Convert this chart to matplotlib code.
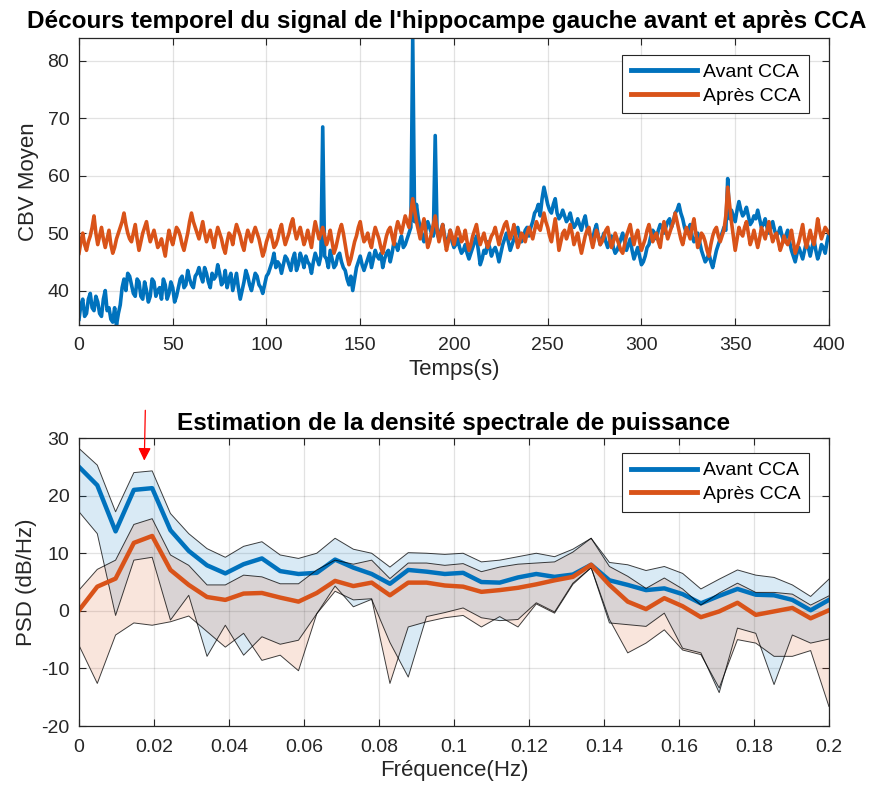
import numpy as np
import matplotlib.pyplot as plt

plt.rcParams['font.family'] = ['Liberation Sans', 'DejaVu Sans']
plt.rcParams['axes.unicode_minus'] = False

# CBV moyen, hippocampe gauche, un point par seconde
t = np.arange(0, 401)

avant_cca = [
    35.0, 37.5, 38.5, 35.5, 36.0, 38.5, 39.5, 37.0, 36.5, 39.0, 38.0,
    36.0, 35.5, 38.5, 40.0, 36.5, 37.0, 35.0, 34.5, 37.0, 34.0,
    36.0, 37.5, 40.5, 42.0, 40.0, 43.0, 42.5, 41.0, 39.5, 39.0,
    42.0, 41.5, 39.0, 38.5, 41.5, 40.0, 38.0, 39.0, 42.0, 41.5,
    39.0, 40.0, 40.5, 38.5, 42.0, 41.0, 38.5, 39.5, 41.5, 40.5,
    38.0, 39.0, 40.5, 42.0, 42.5, 40.5, 41.0, 43.5, 42.0, 41.0,
    40.5, 42.5, 43.0, 44.0, 42.5, 41.5, 44.0, 43.0, 41.5, 40.5,
    43.0, 42.0, 42.5, 44.5, 43.0, 41.0, 41.5, 43.5, 40.5, 42.0,
    43.0, 40.0, 41.5, 43.0, 40.5, 38.5, 40.0, 41.5, 43.5, 42.5,
    41.0, 40.0, 41.5, 43.0, 42.5, 41.0, 40.5, 39.5, 41.0, 42.5,
    43.0, 44.0, 45.0, 46.5, 44.0, 45.0, 44.5, 43.0, 44.5, 46.0,
    45.5, 44.5, 43.5, 45.5, 46.5, 43.5, 44.5, 46.5, 45.5, 44.0,
    46.0, 45.0, 44.5, 43.0, 45.0, 46.5, 45.5, 44.5, 46.0, 68.5,
    46.0, 45.5, 44.0, 47.0, 45.5, 44.0, 44.5, 46.0, 46.5, 45.0,
    44.0, 43.5, 42.0, 41.0, 42.5, 40.0, 42.0, 44.0, 45.0, 46.0,
    44.5, 43.5, 44.5, 45.5, 46.5, 44.0, 45.5, 47.0, 46.0, 45.5,
    46.5, 44.0, 45.5, 46.5, 47.0, 45.0, 46.5, 48.5, 48.0, 47.0,
    48.5, 49.5, 47.5, 48.0, 49.0, 50.0, 51.0, 84.0, 52.0, 55.0,
    52.5, 51.0, 49.5, 48.5, 50.5, 52.0, 51.0, 50.0, 49.5, 67.0,
    50.0, 49.0, 50.5, 51.5, 49.5, 48.0, 49.0, 50.5, 48.5, 47.5,
    48.0, 49.0, 47.5, 46.5, 47.0, 48.0, 46.5, 45.5, 46.5, 47.5,
    48.5, 49.5, 47.0, 44.5, 45.5, 47.0, 46.5, 48.5, 47.5, 46.0,
    47.0, 47.5, 46.5, 45.0, 46.5, 48.0, 49.0, 50.0, 48.5, 47.0,
    48.0, 49.0, 50.0, 51.0, 49.5, 48.5, 49.0, 50.5, 51.0, 49.5,
    51.0, 52.0, 53.5, 54.0, 55.0, 53.0, 56.0, 58.0, 56.5, 55.0,
    54.0, 53.5, 55.0, 56.0, 53.5, 52.5, 53.0, 54.0, 53.0, 52.0,
    52.5, 53.5, 52.0, 51.0, 51.5, 52.5, 51.5, 50.5, 52.0, 53.0,
    51.0, 50.0, 49.5, 49.0, 50.5, 51.5, 49.5, 48.0, 49.0, 50.0,
    48.5, 47.5, 48.5, 49.5, 47.5, 46.5, 47.0, 48.0, 49.0, 50.0,
    48.5, 47.0, 48.0, 49.0, 47.0, 45.5, 46.5, 47.5, 46.0, 44.5,
    45.0, 46.0, 47.5, 48.0, 49.5, 50.5, 50.0, 49.0, 50.5, 51.5,
    51.0, 50.0, 51.0, 52.0, 52.5, 51.0, 52.0, 53.5, 54.0, 55.0,
    53.5, 52.5, 51.0, 50.0, 50.5, 51.5, 49.5, 48.5, 49.0, 50.0,
    48.5, 47.0, 46.0, 45.0, 45.5, 46.5, 45.0, 44.0, 45.5, 47.0,
    48.0, 49.0, 50.0, 51.0, 50.5, 59.5, 52.5, 54.0, 53.0, 52.0,
    54.0, 55.5, 54.0, 53.0, 53.5, 54.5, 53.0, 51.5, 52.0, 53.0,
    52.5, 54.0, 52.5, 51.0, 51.5, 52.5, 51.0, 50.0, 51.0, 52.0,
    50.5, 49.5, 50.0, 51.0, 49.5, 48.5, 49.5, 50.5, 48.5, 47.0,
    46.0, 45.0, 46.5, 47.5, 46.5, 45.5, 47.0, 48.5, 47.5, 46.0,
    47.5, 49.0, 47.0, 45.5, 46.5, 48.0, 47.5, 46.5, 48.5, 50.0,
]

apres_cca = [
    46.5, 48.5, 50.0, 48.0, 47.0, 48.5, 49.5, 51.0, 53.0, 50.0, 48.0,
    49.5, 51.0, 49.0, 47.5, 49.0, 50.5, 48.0, 46.5, 47.5, 49.0,
    50.0, 51.0, 52.0, 53.5, 51.5, 50.0, 49.0, 48.5, 50.0, 51.5,
    49.0, 47.0, 48.5, 50.0, 51.0, 52.0, 50.0, 48.5, 49.5, 50.5,
    49.0, 47.5, 48.0, 49.0, 47.5, 46.0, 48.5, 50.5, 49.0, 48.0,
    49.5, 51.0, 50.5, 49.5, 48.0, 47.0, 48.5, 50.0, 52.0, 53.5,
    52.0, 51.0, 50.0, 49.0, 50.5, 52.0, 50.0, 48.5, 49.5, 50.5,
    49.0, 47.5, 49.5, 51.0, 50.0, 49.0, 47.5, 46.5, 48.5, 50.0,
    49.5, 48.0, 50.0, 51.5, 50.5, 49.5, 48.0, 47.0, 49.0, 50.5,
    49.5, 48.5, 50.0, 51.0, 50.0, 49.0, 47.5, 46.0, 47.0, 48.5,
    49.5, 50.5, 49.0, 47.5, 48.0, 49.0, 50.5, 51.5, 49.5, 48.0,
    49.0, 50.0, 51.5, 52.5, 50.5, 49.0, 50.0, 51.0, 49.5, 48.0,
    49.0, 50.5, 49.0, 47.5, 50.0, 52.0, 50.5, 49.0, 50.0, 51.0,
    49.5, 48.0, 49.0, 50.5, 48.5, 46.5, 47.5, 49.0, 50.5, 51.5,
    50.0, 48.0, 46.0, 44.5, 45.5, 47.0, 48.5, 49.5, 51.0, 52.0,
    50.0, 48.5, 49.0, 50.0, 48.5, 47.5, 49.5, 51.0, 50.0, 49.0,
    47.5, 46.5, 48.0, 49.5, 50.5, 51.0, 49.5, 48.0, 50.5, 52.0,
    51.0, 50.0, 51.5, 53.0, 52.0, 51.0, 53.5, 56.0, 54.0, 52.0,
    50.5, 49.0, 51.0, 52.5, 50.0, 47.5, 48.5, 50.0, 51.5, 53.0,
    50.5, 48.5, 50.0, 51.5, 49.0, 47.0, 48.5, 50.5, 49.5, 48.0,
    49.5, 51.0, 50.0, 48.5, 49.0, 50.5, 48.5, 47.0, 48.0, 49.5,
    50.5, 51.5, 49.5, 48.0, 49.0, 50.0, 48.5, 47.5, 48.5, 49.5,
    50.0, 51.0, 49.5, 48.0, 49.5, 50.5, 51.5, 52.0, 50.5, 49.0,
    50.0, 51.5, 49.5, 47.5, 48.5, 50.0, 49.5, 48.5, 50.0, 51.0,
    50.0, 49.0, 50.5, 52.0, 51.0, 50.5, 52.0, 53.5, 52.0, 51.0,
    49.5, 48.5, 50.5, 52.5, 50.0, 47.0, 48.5, 50.0, 50.5, 49.0,
    50.0, 51.5, 50.0, 48.0, 49.0, 50.0, 48.0, 46.5, 48.0, 49.5,
    50.5, 51.0, 49.0, 47.5, 49.0, 50.5, 49.5, 48.0, 48.5, 49.5,
    50.5, 51.0, 49.0, 47.5, 48.5, 50.0, 49.0, 48.0, 47.0, 46.5,
    48.0, 49.5, 50.5, 51.5, 49.5, 48.0, 49.5, 50.5, 48.5, 47.0,
    48.0, 49.0, 50.5, 51.5, 50.0, 48.5, 49.5, 50.0, 48.5, 47.5,
    50.0, 52.0, 50.5, 49.0, 50.0, 51.0, 52.0, 53.5, 52.0, 50.5,
    49.0, 48.0, 49.5, 51.0, 50.0, 49.0, 51.0, 52.5, 50.0, 47.5,
    48.5, 50.0, 49.5, 48.5, 47.0, 46.0, 48.0, 49.5, 50.5, 51.0,
    49.5, 48.5, 49.5, 50.5, 53.0, 58.0, 55.0, 52.0, 49.5, 47.0,
    49.0, 51.0, 50.0, 49.5, 51.0, 52.0, 50.0, 48.0, 49.0, 50.5,
    49.0, 47.5, 49.0, 51.0, 50.0, 49.0, 50.5, 52.0, 50.0, 48.5,
    49.5, 50.0, 48.5, 47.0, 48.0, 49.5, 48.5, 48.0, 49.0, 50.5,
    48.5, 46.5, 47.5, 48.5, 50.0, 51.5, 49.0, 47.5, 49.0, 50.5,
    49.0, 48.0, 50.0, 52.5, 50.5, 49.0, 50.0, 51.0, 50.5, 50.0,
]

# DSP (dB/Hz), moyenne et enveloppe, resolution 0.2/41 Hz
freq = np.arange(42) * 0.2 / 41

psd_avant = [25.0, 21.8, 13.8, 21.0, 21.3, 14.0, 10.4, 7.9, 6.5, 8.1,
             9.1, 6.9, 6.4, 6.6, 8.9, 7.5, 6.4, 4.7, 7.1, 6.8,
             6.4, 6.6, 5.0, 4.9, 5.8, 6.4, 5.9, 6.3, 8.0, 5.3,
             4.5, 3.6, 3.9, 2.9, 1.3, 2.6, 3.8, 2.8, 2.7, 1.9,
             0.1, 1.9]
psd_avant_hi = [28.2, 25.3, 17.2, 24.0, 24.3, 16.9, 13.4, 10.8, 9.3, 11.2,
                12.0, 9.7, 9.1, 10.0, 12.6, 10.7, 10.0, 7.6, 10.1, 10.0,
                9.8, 10.0, 8.5, 8.8, 9.4, 10.0, 9.4, 10.7, 12.6, 8.4,
                8.0, 7.0, 7.7, 6.5, 3.8, 5.5, 7.1, 6.2, 5.8, 4.5,
                2.5, 5.5]
psd_avant_lo = [17.2, 13.4, -0.8, 8.8, 9.3, -1.6, 2.7, -7.9, -2.5, -7.7,
                -4.5, -5.8, -5.1, -0.5, 4.3, 0.7, 2.0, -5.5, -11.5, -1.0,
                -0.3, 0.5, -1.2, -1.7, -1.5, 1.4, -0.2, 4.8, 7.5, -2.1,
                -2.4, -2.7, -0.4, -6.5, -7.3, -14.2, -3.0, -3.9, -12.8, -4.2,
                -5.6, -4.9]

psd_apres = [0.1, 4.2, 5.6, 11.8, 13.0, 7.1, 4.5, 2.4, 1.9, 3.0,
             3.1, 2.3, 1.6, 3.1, 5.2, 4.3, 4.9, 2.7, 4.9, 4.9,
             4.4, 4.2, 3.3, 3.6, 4.0, 4.6, 5.3, 5.9, 8.0, 4.5,
             1.6, 0.3, 2.2, 0.8, -1.1, -0.1, 1.4, -0.7, -0.1, 0.5,
             -1.3, 0.1]
psd_apres_hi = [3.6, 7.2, 8.8, 15.0, 16.0, 9.7, 7.9, 4.5, 4.5, 6.2,
                5.9, 4.7, 4.7, 7.1, 8.8, 8.1, 8.8, 5.6, 8.3, 8.3,
                7.9, 8.2, 6.8, 7.6, 8.1, 8.3, 8.5, 10.2, 12.6, 7.7,
                6.0, 3.9, 5.7, 3.8, 1.0, 3.1, 4.8, 3.2, 3.2, 2.9,
                1.0, 2.6]
psd_apres_lo = [-6.0, -12.6, -4.2, -2.1, -2.5, -1.9, -0.9, -3.6, -6.3, -3.9,
                -8.6, -7.7, -10.4, -0.5, 3.4, 1.9, 2.1, -12.6, -2.8, -1.9,
                -1.2, -0.8, -2.8, -1.0, -2.8, 1.2, -0.4, 4.6, 7.5, -1.5,
                -7.3, -5.6, -3.3, -6.8, -7.6, -13.4, -5.0, -5.6, -7.9, -7.9,
                -6.9, -16.6]

BLUE = '#0072BD'
ORANGE = '#D95319'
DARK = '#262626'


def style_axes(ax):
    ax.grid(True, color=DARK, alpha=0.13, linewidth=0.9)
    ax.set_axisbelow(True)
    ax.tick_params(direction='in', length=5, top=True, right=True,
                   labelsize=14, colors=DARK, width=0.8)
    ax.tick_params(axis='x', pad=9)
    ax.tick_params(axis='y', pad=7)
    for s in ax.spines.values():
        s.set_color(DARK)
        s.set_linewidth(0.9)


def add_legend(ax, top):
    leg = ax.legend(loc='upper right', bbox_to_anchor=(0.9733, top),
                    borderaxespad=0, fontsize=14, handlelength=3.4,
                    handletextpad=0.3, borderpad=0.45, labelspacing=0.3,
                    fancybox=False, framealpha=1)
    leg.get_frame().set_edgecolor(DARK)
    leg.get_frame().set_linewidth(0.8)
    for h in leg.legend_handles:
        h.set_linewidth(3.5)
    return leg


fig = plt.figure(figsize=(8.7, 7.94), dpi=100)

# signal temporel
ax1 = fig.add_axes([0.0908, 0.5907, 0.862, 0.3615])
ax1.plot(t, avant_cca, color=BLUE, linewidth=2.6, label='Avant CCA')
ax1.plot(t, apres_cca, color=ORANGE, linewidth=2.6, label='Après CCA')
ax1.set_xlim(0, 400)
ax1.set_ylim(34, 84)
ax1.set_xticks(np.arange(0, 401, 50))
ax1.set_yticks([40, 50, 60, 70, 80])
style_axes(ax1)
ax1.set_xlabel('Temps(s)', fontsize=16, color=DARK, labelpad=3)
ax1.set_ylabel('CBV Moyen', fontsize=16, color=DARK, labelpad=6)
ax1.set_title("Décours temporel du signal de l'hippocampe gauche avant et après CCA",
              fontsize=17.5, fontweight='bold', pad=7, x=0.49)
add_legend(ax1, 0.941)

# densite spectrale de puissance
ax2 = fig.add_axes([0.0908, 0.0856, 0.862, 0.3627])
ax2.fill_between(freq, psd_avant_lo, psd_avant_hi, facecolor=BLUE, alpha=0.15,
                 edgecolor='none')
ax2.plot(freq, psd_avant_hi, color='black', linewidth=0.7, alpha=0.75)
ax2.plot(freq, psd_avant_lo, color='black', linewidth=0.7, alpha=0.75)
ax2.plot(freq, psd_avant, color=BLUE, linewidth=3.2, label='Avant CCA')
ax2.fill_between(freq, psd_apres_lo, psd_apres_hi, facecolor=ORANGE, alpha=0.15,
                 edgecolor='none')
ax2.plot(freq, psd_apres_hi, color='black', linewidth=0.7, alpha=0.75)
ax2.plot(freq, psd_apres_lo, color='black', linewidth=0.7, alpha=0.75)
ax2.plot(freq, psd_apres, color=ORANGE, linewidth=3.2, label='Après CCA')
ax2.set_xlim(0, 0.2)
ax2.set_ylim(-20, 30)
ax2.set_xticks(np.arange(0, 0.201, 0.02))
ax2.set_xticklabels(['0', '0.02', '0.04', '0.06', '0.08', '0.1',
                     '0.12', '0.14', '0.16', '0.18', '0.2'])
ax2.set_yticks(np.arange(-20, 31, 10))
style_axes(ax2)
ax2.set_xlabel('Fréquence(Hz)', fontsize=16, color=DARK, labelpad=3)
ax2.set_ylabel('PSD (dB/Hz)', fontsize=16, color=DARK, labelpad=3)
ax2.set_title('Estimation de la densité spectrale de puissance',
              fontsize=17.5, fontweight='bold', pad=6)
add_legend(ax2, 0.948)

# fleche rouge sur le pic a ~0.018 Hz
ax2.annotate('', xy=(0.0174, 25.6), xytext=(0.0177, 35.3),
             arrowprops=dict(arrowstyle='-|>', color='red', linewidth=0.9,
                             mutation_scale=19),
             annotation_clip=False)

fig.savefig('out.png', dpi=100)
